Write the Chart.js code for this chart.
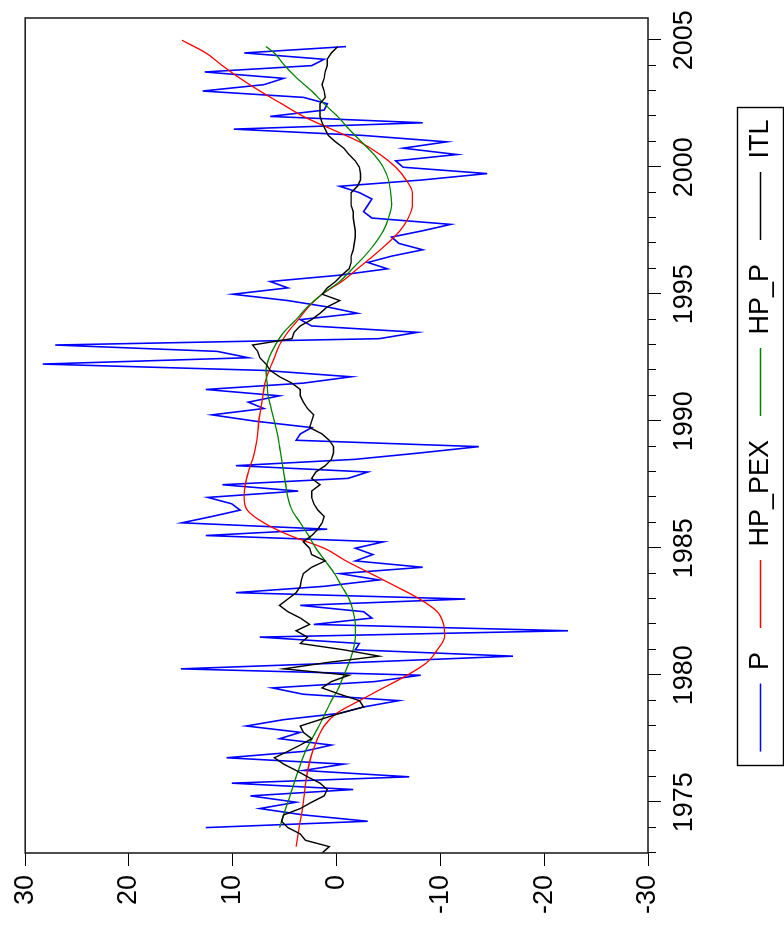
<!DOCTYPE html>
<html>
<head>
<meta charset="utf-8">
<script src="https://cdn.jsdelivr.net/npm/chart.js@4.4.0/dist/chart.umd.min.js"></script>
<style>
  html, body { margin: 0; padding: 0; background: #fff; overflow: hidden; }
  /* the graph is drawn landscape, then turned a quarter turn like the scan */
  #wrap { position: absolute; left: 0; top: 0; width: 933px; height: 784px;
          transform-origin: 0 0; transform: translate(0, 933px) rotate(-90deg); }
</style>
</head>
<body>
<div id="wrap"><canvas id="myChart" width="933" height="784"></canvas></div>
<script>
// P : quarterly, 1974Q1 - 2004Q4
const pStart = 1974;
const pValues = [
  12.6, -3.0, 3.2, 7.4,   3.9, 8.3, -1.6, 10.1,   -7.0, 3.2, -0.7, 10.6,
  3.2, 0.5, 5.5, 3.5,     8.7, 5.1, -0.3, -2.6,   -6.0, 3.2, 6.2, -3.7,
  -8.1, 15.0, -1.8, -17.0, -1.8, -2.2, 7.4, -22.3, 2.2, -3.4, -2.6, 3.5,
  -12.4, 9.7, 1.2, -4.1,  -0.3, -8.3, -1.8, -3.5, -1.8, -4.5, 12.6, 0.9,
  14.9, 12.0, 9.3, 10.1,  12.4, 3.7, 11.0, -1.1,  -3.0, 9.7, -1.8, -8.0,
  -13.7, 3.9, 3.5, 2.4,   7.8, 12.0, 7.0, 8.5,    5.5, 12.6, 3.2, -1.4,
  7.0, 28.3, 8.5, 11.5,   27.1, -4.1, -7.8, 2.4,  3.5, -2.0, 0.9, 4.7,
  10.0, 4.7, 6.4, -0.3,   -4.9, -3.0, -5.3, -8.3, -6.0, -5.3, -8.3, -11.0,
  -3.4, -2.6, -3.0, -3.4, -2.2, -0.3, -8.3, -14.5, -6.4, -5.7, -11.6, -6.4,
  -10.6, -2.6, 9.9, -8.3, 6.4, 1.2, 0.9, 3.2,    12.9, 7.0, 5.1, 12.7,
  2.4, 1.2, 8.9, -0.9
];

// ITL : quarterly, 1973Q1 - 2004Q4
const itlStart = 1973;
const itlValues = [
  1.4, 0.7, 3.0, 3.5,   4.7, 5.3, 5.1, 3.5,   2.4, 1.2, 0.9, 1.6,   2.8, 3.9, 5.1, 6.0,
  4.7, 3.5, 2.4, 3.2,   3.5, 1.6, -0.3, -2.6, -2.2, -0.3, 1.4, 0.5, -1.2, 5.1, 0.9, -4.1,
  -0.7, 3.5, 2.8, 3.9,  2.6, 3.5, 4.7, 5.5,   4.7, 3.9, 3.5, 3.4,   3.2, 2.4, 1.1, 2.4,
  2.6, 3.2, 2.4, 1.8,   1.4, 1.2, 1.8, 2.2,   2.4, 2.4, 1.6, 2.4,   2.0, 1.1, 0.5, 0.3,
  0.3, 0.7, 1.4, 2.6,   2.4, 2.2, 2.8, 3.2,   3.5, 3.5, 4.3, 5.5,   6.4, 6.8, 7.4, 7.6,
  8.1, 4.3, 4.1, 3.5,   2.4, 1.6, 0.9, -0.3,  1.4, 0.9, 0.1, -0.5,  -1.2, -1.4, -1.4, -1.6,
  -1.7, -1.8, -1.8, -1.7, -1.6, -1.6, -1.4, -1.4, -1.4, -2.0, -2.3, -2.3, -2.2, -1.8, -1.2, -0.7,
  0.1, 0.8, 1.1, 1.4,   1.6, 1.6, 1.6, 1.1,   1.2, 1.4, 1.2, 1.1,   0.9, 0.9, 0.5, -0.1
];

// HP_PEX : smooth trend, read at these dates
const hpPexYears = [
  1973.25, 1974, 1975, 1976, 1977, 1978, 1978.5, 1979, 1979.5, 1980, 1980.5, 1981, 1981.5,
  1982, 1982.5, 1983, 1983.5, 1984, 1984.5, 1985, 1985.5, 1986, 1986.5, 1987, 1987.5,
  1988, 1988.5, 1989, 1989.5, 1990, 1990.5, 1991, 1991.5, 1992, 1992.5, 1993, 1993.5,
  1994, 1994.5, 1995, 1995.5, 1996, 1996.5, 1997, 1997.5, 1998, 1998.5, 1999, 1999.5,
  2000, 2000.5, 2001, 2001.5, 2002, 2002.5, 2003, 2003.5, 2004, 2004.5, 2005
];
const hpPexValues = [
  3.9, 3.6, 3.2, 2.9, 2.3, 1.2, 0.0, -2.2, -4.5, -6.8, -8.7, -9.7, -10.4,
  -10.3, -9.7, -8.0, -5.7, -3.3, -0.9, 1.2, 4.5, 7.0, 8.6, 8.9, 8.8,
  8.5, 8.1, 7.8, 7.6, 7.5, 7.3, 7.1, 6.9, 6.5, 6.0, 5.5, 4.7,
  3.7, 2.7, 1.4, -0.5, -2.0, -3.5, -4.9, -6.1, -6.9, -7.3, -7.3, -6.7,
  -5.7, -4.2, -2.2, 0.5, 3.2, 5.3, 7.4, 9.3, 11.0, 12.6, 14.9
];

// HP_P : smooth trend, read at these dates
const hpPYears = [
  1974, 1975, 1976, 1977, 1978, 1978.5, 1979, 1979.5, 1980, 1980.5, 1981, 1981.5,
  1982, 1982.5, 1983, 1983.5, 1984, 1984.5, 1985, 1985.5, 1986, 1986.5, 1987, 1987.5,
  1988, 1988.5, 1989, 1989.5, 1990, 1990.5, 1991, 1991.5, 1992, 1992.5, 1993, 1993.5,
  1994, 1994.5, 1995, 1995.5, 1996, 1996.5, 1997, 1997.5, 1998, 1998.5, 1999, 1999.5,
  2000, 2000.5, 2001, 2001.5, 2002, 2002.5, 2003, 2003.5, 2004, 2004.5, 2004.75
];
const hpPValues = [
  5.5, 4.7, 3.9, 3.0, 1.7, 1.1, 0.5, -0.2, -0.7, -1.2, -1.6, -1.8,
  -1.8, -1.6, -1.2, -0.5, 0.2, 1.1, 2.0, 2.7, 3.5, 4.3, 4.7, 4.9,
  5.1, 5.3, 5.5, 5.7, 6.0, 6.3, 6.6, 6.7, 6.8, 6.5, 5.9, 5.1,
  3.9, 2.8, 1.4, -0.3, -1.5, -2.7, -3.7, -4.5, -5.0, -5.3, -5.2, -5.0,
  -4.5, -3.6, -2.4, -1.2, -0.1, 1.2, 2.4, 3.8, 5.0, 6.0, 6.8
];

// axes
const yearMin = 1973;
const yearMax = 2005.875;
const yearTicks = [1975, 1980, 1985, 1990, 1995, 2000, 2005];
const valueTicks = [-30, -20, -10, 0, 10, 20, 30];

function quarterly(start, values) {
    return values.map((v, i) => ({ x: start + i / 4, y: v }));
}
function paired(years, values) {
    return years.map((t, i) => ({ x: t, y: values[i] }));
}

Chart.defaults.font.family = "'Liberation Sans', Arial, sans-serif";
Chart.defaults.font.size = 27;
Chart.defaults.color = '#000';

// cadre du graphique, petites graduations et boite de la legende
const framePlugin = {
    id: 'frame',
    afterDraw(chart) {
        const ctx = chart.ctx;
        const area = chart.chartArea;
        const xs = chart.scales.x;
        ctx.save();
        ctx.strokeStyle = '#000';
        ctx.lineWidth = 1;
        for (let y = Math.ceil(yearMin); y <= Math.floor(yearMax); y++) {
            const px = Math.round(xs.getPixelForValue(y)) + 0.5;
            const len = yearTicks.includes(y) ? 13 : 8;
            ctx.beginPath();
            ctx.moveTo(px, area.bottom);
            ctx.lineTo(px, area.bottom + len);
            ctx.stroke();
        }
        ctx.lineWidth = 1.6;
        ctx.strokeStyle = '#222';
        ctx.strokeRect(area.left, area.top, area.right - area.left, area.bottom - area.top);

        const boxes = chart.legend.legendHitBoxes;
        if (boxes && boxes.length) {
            const first = boxes[0];
            const last = boxes[boxes.length - 1];
            const left = first.left - 14;
            const right = last.left + last.width + 12;
            const top = first.top - 10;
            const bottom = first.top + first.height + 9;
            ctx.lineWidth = 1.4;
            ctx.strokeStyle = '#000';
            ctx.strokeRect(Math.round(left) + 0.5, Math.round(top) + 0.5,
                Math.round(right - left), Math.round(bottom - top));
        }
        ctx.restore();
    }
};

const ctx = document.getElementById('myChart').getContext('2d');
const myChart = new Chart(ctx, {
    type: 'line',
    data: {
        datasets: [
            { label: 'P', data: quarterly(pStart, pValues), borderColor: '#0000ff', borderWidth: 1.6, order: 4 },
            { label: 'HP_PEX', data: paired(hpPexYears, hpPexValues), borderColor: '#ff0000', borderWidth: 1.3,
              cubicInterpolationMode: 'monotone', order: 3 },
            { label: 'HP_P', data: paired(hpPYears, hpPValues), borderColor: '#008000', borderWidth: 1.3,
              cubicInterpolationMode: 'monotone', order: 2 },
            { label: 'ITL', data: quarterly(itlStart, itlValues), borderColor: '#000000', borderWidth: 1.4, order: 1 }
        ]
    },
    options: {
        responsive: false,
        animation: false,
        events: [],
        layout: { padding: { top: 22, right: 18, left: 0, bottom: 0 } },
        elements: { point: { radius: 0 }, line: { tension: 0, fill: false } },
        scales: {
            x: {
                type: 'linear',
                min: yearMin,
                max: yearMax,
                afterBuildTicks: (scale) => {
                    const t = [];
                    for (let y = Math.ceil(yearMin); y <= Math.floor(yearMax); y++) t.push({ value: y });
                    scale.ticks = t;
                },
                afterFit: (scale) => { scale.height = 75; },
                border: { display: false },
                grid: { drawOnChartArea: false, tickLength: 13, color: 'rgba(0,0,0,0)' },
                ticks: {
                    autoSkip: false,
                    maxRotation: 0,
                    minRotation: 0,
                    padding: 7,
                    callback: (v) => yearTicks.includes(v) ? String(v) : ''
                }
            },
            y: {
                min: -30,
                max: 30,
                afterBuildTicks: (scale) => { scale.ticks = valueTicks.map(v => ({ value: v })); },
                afterFit: (scale) => { scale.width = 80; },
                border: { display: false },
                grid: { drawOnChartArea: false, tickLength: 13, color: '#000' },
                ticks: { padding: 9, callback: (v) => String(v) }
            }
        },
        plugins: {
            tooltip: { enabled: false },
            legend: {
                position: 'bottom',
                fullSize: false,
                labels: {
                    usePointStyle: true,
                    pointStyle: 'line',
                    pointStyleWidth: 68,
                    padding: 24,
                    color: '#000',
                    sort: (a, b) => a.datasetIndex - b.datasetIndex
                }
            }
        }
    },
    plugins: [framePlugin]
});
</script>
</body>
</html>
